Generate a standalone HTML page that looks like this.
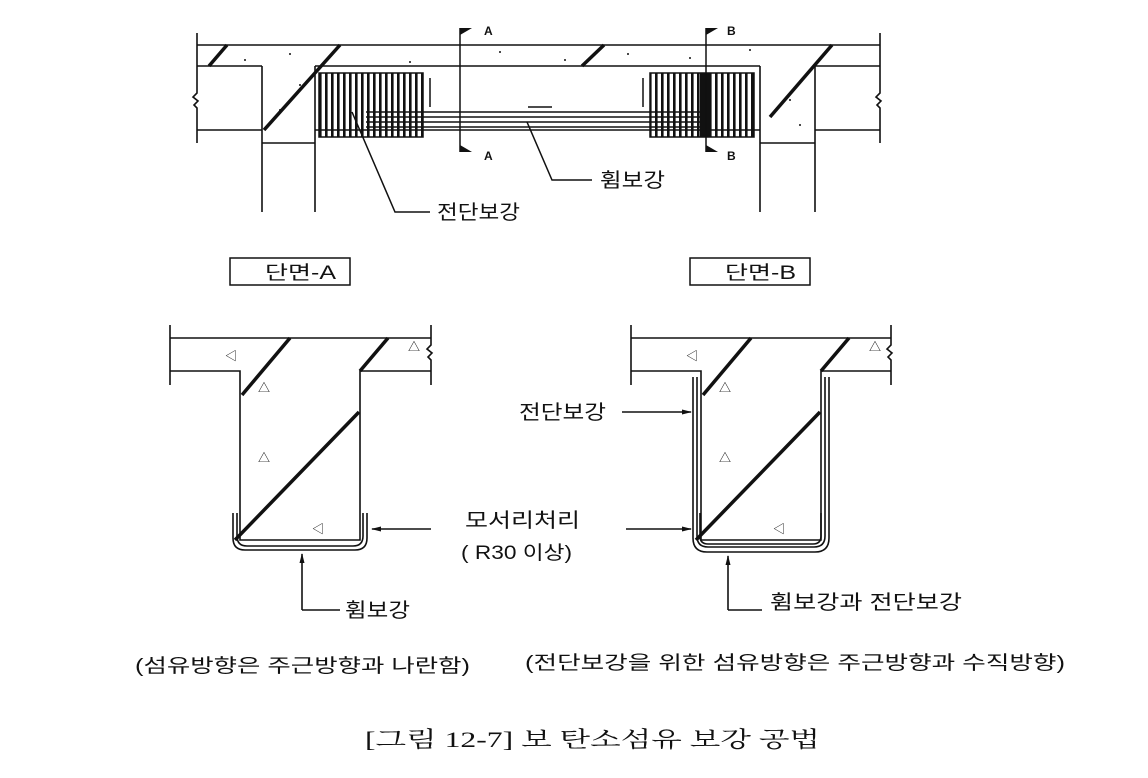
<!DOCTYPE html>
<html><head><meta charset="utf-8"><style>
html,body{margin:0;padding:0;background:#fff;}
svg{display:block;}
text{font-family:"Liberation Sans","Noto Sans CJK KR",sans-serif;fill:#111;}
</style></head><body>
<svg width="1148" height="778" viewBox="0 0 1148 778" xmlns="http://www.w3.org/2000/svg">
<defs>
<pattern id="vh" x="319" y="0" width="6" height="10" patternUnits="userSpaceOnUse">
<rect x="0" y="0" width="2.6" height="10" fill="#111"/></pattern>
<marker id="ar" markerWidth="10" markerHeight="8" refX="9" refY="4" orient="auto" markerUnits="userSpaceOnUse">
<path d="M0,1.5 L10,4 L0,6.5 z" fill="#111"/></marker>
</defs>
<g stroke="#111" stroke-width="1.6" fill="none">
<line x1="197" y1="45" x2="880" y2="45"/>
<line x1="197" y1="66" x2="262" y2="66"/>
<line x1="315" y1="66" x2="760" y2="66"/>
<line x1="815" y1="66" x2="880" y2="66"/>
<line x1="197" y1="130" x2="262" y2="130"/>
<line x1="815" y1="130" x2="880" y2="130"/>
<line x1="315" y1="130" x2="760" y2="130"/>
<line x1="262" y1="143" x2="315" y2="143"/>
<line x1="760" y1="143" x2="815" y2="143"/>
<line x1="262" y1="66" x2="262" y2="212"/>
<line x1="315" y1="66" x2="315" y2="212"/>
<line x1="760" y1="66" x2="760" y2="212"/>
<line x1="815" y1="66" x2="815" y2="212"/>
<path d="M197,33 V93 l-4,4 l5,4 l-4,4 l3,3 V143"/>
<path d="M880,33 V93 l-4,4 l5,4 l-4,4 l3,3 V143"/>
</g>
<g stroke="#111" stroke-width="3.5" fill="none">
<path d="M209,66 l18,-21"/>
<path d="M264,130 l76,-85"/>
<path d="M582,66 l22,-21"/>
<path d="M770,117 l62,-72"/>
</g>
<g fill="#111">
<circle cx="245" cy="60" r="1"/><circle cx="290" cy="54" r="1"/><circle cx="410" cy="62" r="1"/><circle cx="500" cy="52" r="1"/><circle cx="565" cy="60" r="1"/><circle cx="628" cy="54" r="1"/><circle cx="690" cy="58" r="1"/><circle cx="750" cy="50" r="1"/><circle cx="790" cy="100" r="1"/><circle cx="800" cy="125" r="1"/><circle cx="300" cy="85" r="1"/><circle cx="280" cy="110" r="1"/>
</g>
<g stroke="#111" stroke-width="1.4" fill="none">
<line x1="366" y1="112" x2="705" y2="112"/>
<line x1="366" y1="117" x2="705" y2="117"/>
<line x1="366" y1="122" x2="705" y2="122"/>
<line x1="366" y1="127" x2="705" y2="127"/>
</g>
<rect x="319" y="73" width="104" height="64" fill="url(#vh)"/>
<rect x="319" y="73" width="104" height="64" fill="none" stroke="#111" stroke-width="1.5"/>
<rect x="650" y="73" width="104" height="64" fill="url(#vh)"/>
<rect x="650" y="73" width="104" height="64" fill="none" stroke="#111" stroke-width="1.5"/>
<rect x="700" y="73" width="10" height="64" fill="#111"/>
<g stroke="#111" stroke-width="1.5" fill="none">
<line x1="430" y1="78" x2="430" y2="107"/>
<line x1="643" y1="78" x2="643" y2="107"/>
<line x1="528" y1="107" x2="552" y2="107"/>
<line x1="460" y1="28" x2="460" y2="152"/>
<line x1="706" y1="28" x2="706" y2="152"/>
<path d="M352,112 L395,212 H430"/>
<path d="M527,122 L552,180 H592"/>
</g>
<g fill="#111">
<path d="M460,28 h12 l-12,7z"/><path d="M460,152 h12 l-12,-7z"/>
<path d="M706,28 h12 l-12,7z"/><path d="M706,152 h12 l-12,-7z"/>
</g>
<g font-size="12" font-weight="bold"><text x="484" y="35">A</text><text x="484" y="160">A</text><text x="727" y="35" >B</text><text x="727" y="160">B</text></g>
<text x="600" y="187" font-size="20" textLength="65" lengthAdjust="spacingAndGlyphs">휨보강</text>
<text x="437" y="219" font-size="20" textLength="83" lengthAdjust="spacingAndGlyphs">전단보강</text>
<rect x="230" y="258" width="120" height="27" fill="none" stroke="#111" stroke-width="1.5"/>
<text x="265" y="279" font-size="19" textLength="71" lengthAdjust="spacingAndGlyphs">단면-A</text>
<rect x="690" y="258" width="120" height="27" fill="none" stroke="#111" stroke-width="1.5"/>
<text x="725" y="279" font-size="19" textLength="71" lengthAdjust="spacingAndGlyphs">단면-B</text>
<g stroke="#111" stroke-width="1.6" fill="none">
<line x1="170" y1="338" x2="431" y2="338"/>
<path d="M170,371 H240 V540 H360 V371 H431"/>
<line x1="170" y1="325" x2="170" y2="385"/>
<path d="M431,325 V345 l-4,4 l5,4 l-4,4 l3,3 V385"/>
<path d="M233,513 V538 q0,12 12,12 H355 q12,0 12,-12 V513"/>
<path d="M237,513 V536 q0,10 10,10 H353 q10,0 10,-10 V513"/>
<line x1="431" y1="529" x2="372" y2="529" marker-end="url(#ar)"/>
<path d="M302,610 V554" marker-end="url(#ar)"/>
<line x1="302" y1="610" x2="340" y2="610"/>
</g>
<text x="345" y="617" font-size="20" textLength="65" lengthAdjust="spacingAndGlyphs">휨보강</text>
<g stroke="#111" stroke-width="3.5" fill="none">
<path d="M242,395 l48,-57"/>
<path d="M235,540 L359,412"/>
<path d="M360,371 l28,-33"/>
<path d="M703,395 l48,-57"/>
<path d="M696,540 L820,412"/>
<path d="M821,371 l28,-33"/>
</g>
<g font-size="12"><text x="225" y="360">◁</text><text x="258" y="392">△</text><text x="258" y="462">△</text><text x="312" y="533">◁</text><text x="408" y="351">△</text>
<text x="686" y="360">◁</text><text x="719" y="392">△</text><text x="719" y="462">△</text><text x="773" y="533">◁</text><text x="869" y="351">△</text></g>
<g stroke="#111" stroke-width="1.6" fill="none">
<line x1="631" y1="338" x2="891" y2="338"/>
<path d="M631,371 H701 V540 H821 V371 H891"/>
<line x1="631" y1="325" x2="631" y2="385"/>
<path d="M891,325 V345 l-4,4 l5,4 l-4,4 l3,3 V385"/>
<path d="M693,377 V538 q0,14 14,14 H815 q14,0 14,-14 V377"/>
<path d="M697,377 V536 q0,11 11,11 H814 q11,0 11,-11 V377"/>
<path d="M700,513 V536 q0,8 8,8 H813 q8,0 8,-8 V513"/>
<line x1="622" y1="412" x2="691" y2="412" marker-end="url(#ar)"/>
<line x1="626" y1="529" x2="691" y2="529" marker-end="url(#ar)"/>
<path d="M728,610 V556" marker-end="url(#ar)"/>
<line x1="728" y1="610" x2="762" y2="610"/>
</g>
<text x="519" y="419" font-size="20" textLength="87" lengthAdjust="spacingAndGlyphs">전단보강</text>
<text x="465" y="527" font-size="20" textLength="115" lengthAdjust="spacingAndGlyphs">모서리처리</text>
<text x="461" y="559" font-size="19" textLength="111" lengthAdjust="spacingAndGlyphs">( R30 이상)</text>
<text x="770" y="609" font-size="20" textLength="192" lengthAdjust="spacingAndGlyphs">휨보강과 전단보강</text>
<text x="135" y="672" font-size="19" textLength="335" lengthAdjust="spacingAndGlyphs">(섬유방향은 주근방향과 나란함)</text>
<text x="525" y="669" font-size="19" textLength="540" lengthAdjust="spacingAndGlyphs">(전단보강을 위한 섬유방향은 주근방향과 수직방향)</text>
<text x="365" y="747" font-size="22" textLength="455" lengthAdjust="spacingAndGlyphs" style="font-family:'Liberation Serif','Noto Serif CJK SC',serif">[그림 12-7] 보 탄소섬유 보강 공법</text>
</svg>
</body></html>
